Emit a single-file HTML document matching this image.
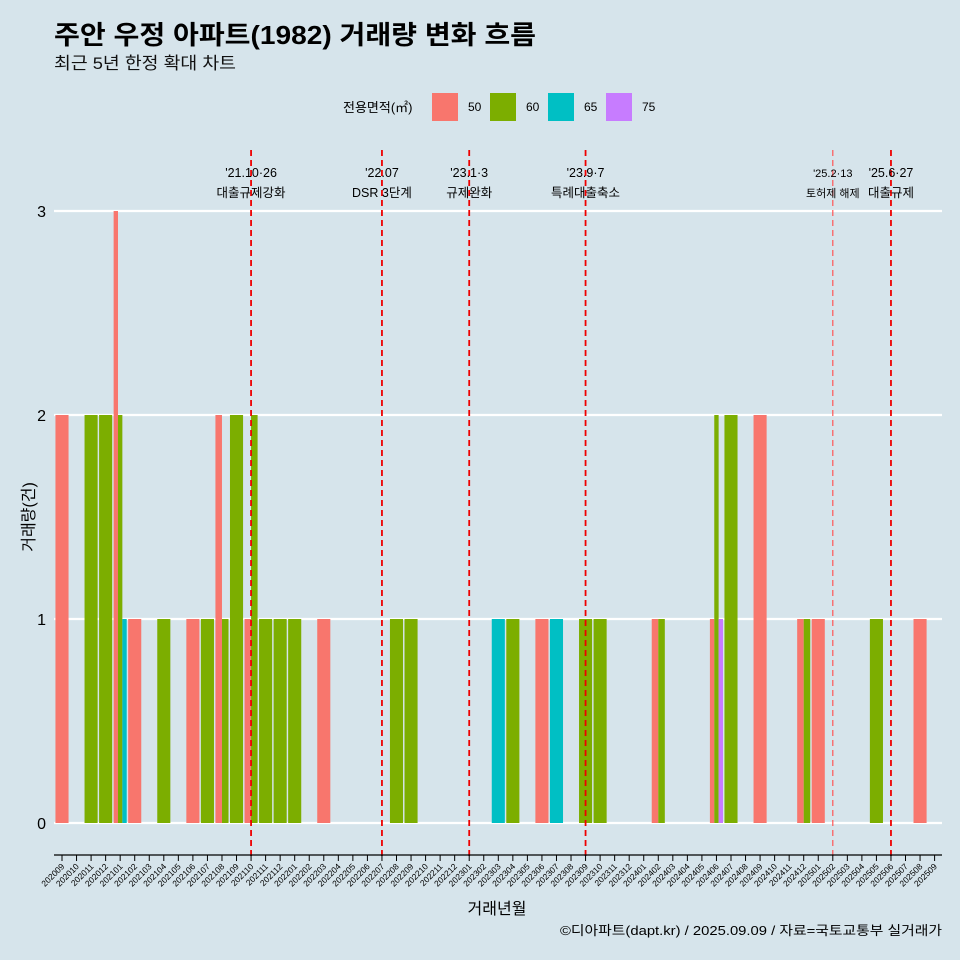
<!DOCTYPE html>
<html><head><meta charset="utf-8"><style>
body{margin:0;background:#d6e4eb;font-family:"Liberation Sans","Noto Sans CJK KR",sans-serif;}
svg{display:block}
</style></head><body>
<svg id="chart" width="960" height="960" xmlns="http://www.w3.org/2000/svg" style="font-family:'Liberation Sans','Noto Sans CJK KR',sans-serif">
<rect width="960" height="960" fill="#d6e4eb"/>
<text x="54" y="44" font-size="26" font-weight="bold" fill="#000" textLength="482" lengthAdjust="spacingAndGlyphs">주안 우정 아파트(1982) 거래량 변화 흐름</text>
<text x="54" y="69" font-size="17" fill="#111" textLength="182" lengthAdjust="spacingAndGlyphs">최근 5년 한정 확대 차트</text>
<g font-size="12">
<text x="343" y="112" font-size="13">전용면적(㎡)</text>
<rect x="432" y="93" width="26" height="28" fill="#F8766D"/><text x="468" y="111">50</text>
<rect x="490" y="93" width="26" height="28" fill="#7CAE00"/><text x="526" y="111">60</text>
<rect x="548" y="93" width="26" height="28" fill="#00BFC4"/><text x="584" y="111">65</text>
<rect x="606" y="93" width="26" height="28" fill="#C77CFF"/><text x="642" y="111">75</text>
</g>
<g id="grid"></g><g id="bars"></g><g id="events"></g><g id="axes"></g>
<text transform="translate(34,517) rotate(-90)" text-anchor="middle" font-size="16">거래량(건)</text>
<text x="497" y="914" text-anchor="middle" font-size="16">거래년월</text>
<text x="942" y="935" text-anchor="end" font-size="13" textLength="382" lengthAdjust="spacingAndGlyphs">©디아파트(dapt.kr) / 2025.09.09 / 자료=국토교통부 실거래가</text>
</svg>
<script>
const months=[];for(let y=2020,m=9;!(y===2025&&m===10);){months.push(''+y+(m<10?'0':'')+m);m++;if(m>12){m=1;y++;}}
const sizes=['50','60','65','75'];
const colors=['#F8766D','#7CAE00','#00BFC4','#C77CFF'];
const barMonths=['202009','202011','202012','202101','202101','202101','202102','202104','202106','202107','202108','202108','202109','202110','202110','202111','202112','202201','202203','202208','202209','202303','202304','202306','202307','202309','202310','202402','202402','202406','202406','202406','202407','202409','202412','202412','202501','202505','202508'];
const barSizes=['50','60','60','50','60','65','50','60','50','60','50','60','60','50','60','60','60','60','50','60','60','65','60','50','65','60','60','50','60','50','60','75','60','50','50','60','50','60','50'];
const barValues=[2,2,2,3,2,1,1,1,1,1,2,1,2,1,2,1,1,1,1,1,1,1,1,1,1,1,1,1,1,1,2,1,2,2,1,1,1,1,1];
const yTicks=[0,1,2,3];
const eventMonths=['202110','202207','202301','202309','202502','202506'];
const eventLine1=["'21.10·26","'22.07","'23.1·3","'23.9·7","'25.2·13","'25.6·27"];
const eventLine2=['대출규제강화','DSR 3단계','규제완화','특례대출축소','토허제 해제','대출규제'];
const NS='http://www.w3.org/2000/svg';
const x0=62,step=(934.6-62)/(months.length-1),bw=step*0.9;
const xs=m=>x0+months.indexOf(m)*step;
const ys=v=>823-v*204;
function el(t,a,p){const e=document.createElementNS(NS,t);for(const k in a)e.setAttribute(k,a[k]);p.appendChild(e);return e;}
const G=document.getElementById('grid'),B=document.getElementById('bars'),E=document.getElementById('events'),A=document.getElementById('axes');
yTicks.forEach(v=>{
 const l=el('line',{x1:54,x2:942,y1:ys(v),y2:ys(v),stroke:'#fff','stroke-width':2.2},G);
 
 
 const t=el('text',{x:46,y:ys(v)+6,'text-anchor':'end','font-size':16},A);t.textContent=v;
 
 
});
const groups={};barMonths.forEach((m,i)=>{(groups[m]=groups[m]||[]).push(i);});
Object.keys(groups).forEach(m=>{
 const idx=groups[m].sort((a,b)=>sizes.indexOf(barSizes[a])-sizes.indexOf(barSizes[b]));
 const w=bw/idx.length;const left=xs(m)-bw/2;
 idx.forEach((i,k)=>{
  const r=el('rect',{x:left+k*w,y:ys(barValues[i]),width:w,height:ys(0)-ys(barValues[i]),fill:colors[sizes.indexOf(barSizes[i])]},B);
  
  
 });
});
eventMonths.forEach((m,i)=>{
 const x=xs(m);const light=(m==='202502');
 const l=el('line',{x1:x,x2:x,y1:150,y2:857,stroke:light?'#f55':'#e00','stroke-width':light?1.2:1.8,'stroke-dasharray':'6,4'},E);
 
 
 const fs=light?11:12.5;
 const t1=el('text',{x:x,y:177,'text-anchor':'middle','font-size':fs},E);t1.textContent=eventLine1[i];
 
 
 const t2=el('text',{x:x,y:197,'text-anchor':'middle','font-size':fs},E);t2.textContent=eventLine2[i];
 
 
});
const ax=el('line',{x1:54,x2:942,y1:855,y2:855,stroke:'#000','stroke-width':1.2},A);


months.forEach(m=>{
 const x=xs(m);
 const tk=el('line',{x1:x,x2:x,y1:855,y2:861,stroke:'#000','stroke-width':1},A);
 
 
 const t=el('text',{x:x+3,y:867,'text-anchor':'end','font-size':8.5,transform:`rotate(-45 ${x+3} 867)`},A);t.textContent=m;
 
 
});
</script>
</body></html>
